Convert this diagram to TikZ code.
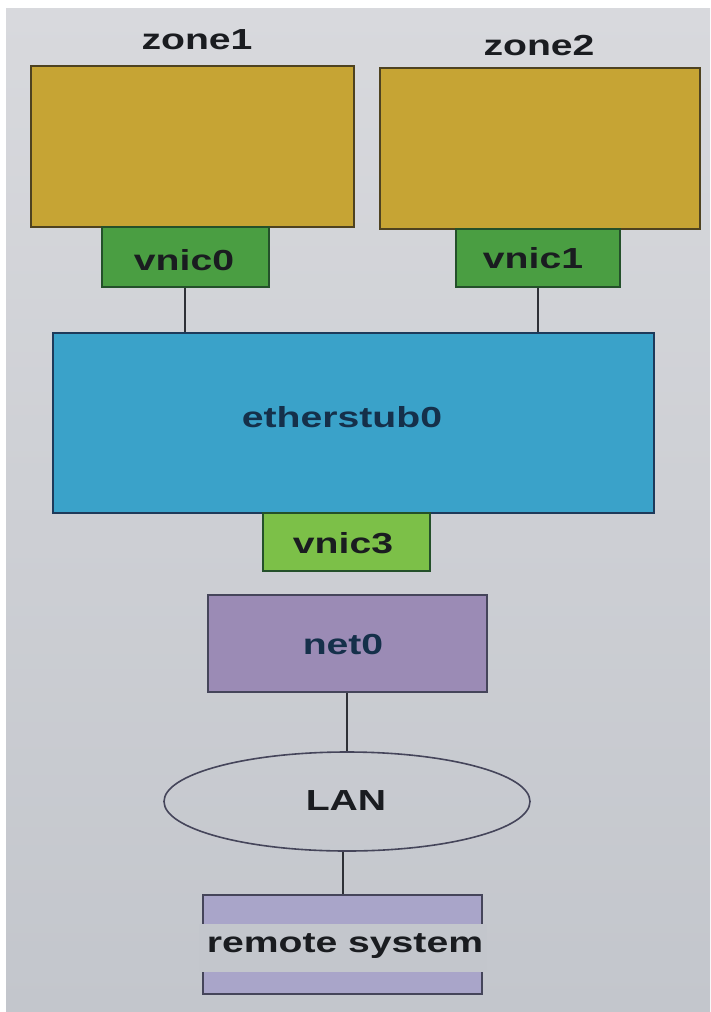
\documentclass[tikz,border=0pt]{standalone}
\usepackage{fontspec}
\newfontfamily\lab[FakeStretch=1.35]{Liberation Sans}
\usetikzlibrary{shapes.geometric}
\definecolor{bgtop}{HTML}{D8D9DD}
\definecolor{bgbot}{HTML}{C3C6CC}
\definecolor{zonefill}{HTML}{C6A434}
\definecolor{zoneline}{HTML}{4E4220}
\definecolor{vnicfill}{HTML}{4A9E42}
\definecolor{vnicline}{HTML}{24502A}
\definecolor{stubfill}{HTML}{3AA2C9}
\definecolor{stubline}{HTML}{1E3A5A}
\definecolor{vnicthree}{HTML}{7CC048}
\definecolor{netfill}{HTML}{9B8BB5}
\definecolor{netline}{HTML}{45455A}
\definecolor{remfill}{HTML}{A9A5C9}
\definecolor{linkcol}{HTML}{2E3036}
\definecolor{txt}{HTML}{1A1C20}
\definecolor{txtblue}{HTML}{15304A}
\begin{document}
\begin{tikzpicture}[x=1pt,y=-1pt,
  boxbase/.style={rectangle, inner sep=0pt, line width=2pt},
  zonebox/.style={boxbase, draw=zoneline, fill=zonefill},
  vnicbox/.style={boxbase, draw=vnicline, fill=vnicfill},
  stubbox/.style={boxbase, draw=stubline, fill=stubfill},
  vnicbox3/.style={boxbase, draw=vnicline, fill=vnicthree},
  netbox/.style={boxbase, draw=netline, fill=netfill},
  rembox/.style={boxbase, draw=netline, fill=remfill},
  lanshape/.style={ellipse, draw=netline, line width=1.6pt, inner sep=0pt},
  lbl/.style={font=\lab\bfseries\fontsize{29}{32}\selectfont, anchor=base, inner sep=0pt, text=txt},
  link/.style={draw=linkcol, line width=2pt}]
% background photo area
\fill[white] (0,0) rectangle (710,1012);
\shade[top color=bgtop, bottom color=bgbot] (6,8) rectangle (710,1012);

% boxes
\node[zonebox, minimum width=323pt, minimum height=161pt] (zone1) at (192.5,146.5) {};
\node[zonebox, minimum width=320pt, minimum height=161pt] (zone2) at (540,148.5) {};
\node[vnicbox, minimum width=167pt, minimum height=60pt] (vnic0) at (185,257) {};
\node[vnicbox, minimum width=164pt, minimum height=58pt] (vnic1) at (538,258) {};
\node[stubbox, minimum width=601pt, minimum height=180pt] (stub) at (353.5,423) {};
\node[vnicbox3, minimum width=167pt, minimum height=58pt] (vnic3) at (346.5,542) {};
\node[netbox, minimum width=279pt, minimum height=97pt] (net0) at (347,643) {};
\node[lanshape, minimum width=366pt, minimum height=99pt] (lan) at (347,801.5) {};
\node[rembox, minimum width=279pt, minimum height=99pt] (remote) at (342.5,944.5) {};
\fill[bgbot] (199,924) rectangle (487,972);

% connectors
\draw[link] (vnic0.south) -- (vnic0.south |- stub.north);
\draw[link] (vnic1.south) -- (vnic1.south |- stub.north);
\draw[link] (net0.south) -- (net0.south |- lan.north);
\draw[link] (remote.north |- lan.south) -- (remote.north);

% labels
\node[lbl] (tz1) at (197,49) {zone1};
\node[lbl] (tz2) at (539,55) {zone2};
\node[lbl] (tv0) at (184,270) {vnic0};
\node[lbl] (tv1) at (533,268) {vnic1};
\node[lbl, text=txtblue] (tst) at (342,427) {etherstub0};
\node[lbl] (tv3) at (343,553) {vnic3};
\node[lbl, text=txtblue] (tn0) at (343,654) {net0};
\node[lbl] (tlan) at (346,810) {LAN};
\node[lbl] (trem) at (345,952) {remote system};
\end{tikzpicture}
\end{document}
